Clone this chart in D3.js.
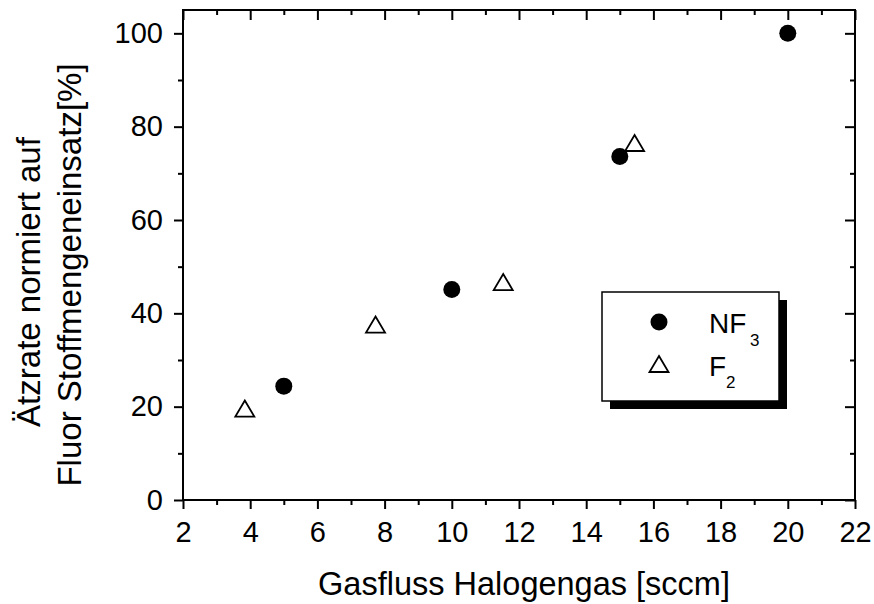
<!DOCTYPE html>
<html>
<head>
<meta charset="UTF-8">
<title>Ätzrate vs Gasfluss</title>
<script src="https://d3js.org/d3.v7.min.js"></script>
<style>
  body { margin: 0; background: #fff; }
  svg { display: block; background: #fff; }
  text { font-family: "Liberation Sans", Arial, sans-serif; fill: #000; }
  .axis path.domain { display: none; }
  .axis line { stroke: #000; stroke-width: 2; }
  .axis text { font-size: 29px; }
</style>
</head>
<body>
<svg width="874" height="604"></svg>
<script>
// data
var nf3X = [5, 10, 15, 20];
var nf3Y = [24.4, 45.1, 73.6, 100];
var f2X = [3.84, 7.73, 11.53, 15.44];
var f2Y = [19.6, 37.6, 46.7, 76.5];

var xMajor = [2, 4, 6, 8, 10, 12, 14, 16, 18, 20, 22];
var xMinor = [3, 5, 7, 9, 11, 13, 15, 17, 19, 21];
var yMajor = [0, 20, 40, 60, 80, 100];
var yMinor = [10, 30, 50, 70, 90];

var pl = 183, pr = 855, pt = 10, pb = 500;

var svg = d3.select('svg');
var x = d3.scaleLinear().domain([2, 22]).range([pl, pr]);
var y = d3.scaleLinear().domain([0, 105]).range([pb, pt]);

// bottom axis, major + minor ticks outward
svg.append('g').attr('class', 'axis').attr('transform', 'translate(0,' + pb + ')')
  .call(d3.axisBottom(x).tickValues(xMajor).tickSize(9).tickPadding(12).tickFormat(d3.format('d')));
svg.append('g').attr('class', 'axis').attr('transform', 'translate(0,' + pb + ')')
  .call(d3.axisBottom(x).tickValues(xMinor).tickSize(5).tickFormat(''));
// top axis, inward
svg.append('g').attr('class', 'axis').attr('transform', 'translate(0,' + pt + ')')
  .call(d3.axisTop(x).tickValues(xMajor).tickSize(-10).tickFormat(''));
svg.append('g').attr('class', 'axis').attr('transform', 'translate(0,' + pt + ')')
  .call(d3.axisTop(x).tickValues(xMinor).tickSize(-5).tickFormat(''));
// left axis
svg.append('g').attr('class', 'axis').attr('transform', 'translate(' + pl + ',0)')
  .call(d3.axisLeft(y).tickValues(yMajor).tickSize(9).tickPadding(11).tickFormat(d3.format('d')));
svg.append('g').attr('class', 'axis').attr('transform', 'translate(' + pl + ',0)')
  .call(d3.axisLeft(y).tickValues(yMinor).tickSize(5).tickFormat(''));
// right axis, inward
svg.append('g').attr('class', 'axis').attr('transform', 'translate(' + pr + ',0)')
  .call(d3.axisRight(y).tickValues(yMajor).tickSize(-10).tickFormat(''));
svg.append('g').attr('class', 'axis').attr('transform', 'translate(' + pr + ',0)')
  .call(d3.axisRight(y).tickValues(yMinor).tickSize(-5).tickFormat(''));

// frame
svg.append('rect').attr('x', pl).attr('y', pt)
  .attr('width', pr - pl).attr('height', pb - pt)
  .attr('fill', 'none').attr('stroke', '#000').attr('stroke-width', 2);

// titles
svg.append('text').attr('x', 524).attr('y', 595)
  .attr('text-anchor', 'middle').style('font-size', '32.5px')
  .text('Gasfluss Halogengas [sccm]');
svg.append('text').attr('transform', 'translate(40,282) rotate(-90)')
  .attr('text-anchor', 'middle').style('font-size', '33px')
  .text('Ätzrate normiert auf');
svg.append('text').attr('transform', 'translate(81,275) rotate(-90)')
  .attr('text-anchor', 'middle').style('font-size', '33px')
  .text('Fluor Stoffmengeneinsatz[%]');

function tri(cx, cy) {
  var p = d3.path();
  p.moveTo(cx, cy - 8);
  p.lineTo(cx + 9.5, cy + 8);
  p.lineTo(cx - 9.5, cy + 8);
  p.closePath();
  return p.toString();
}

// points
svg.append('g').selectAll('circle').data(nf3X).enter().append('circle')
  .attr('cx', function(d) { return x(d); })
  .attr('cy', function(d, i) { return y(nf3Y[i]); })
  .attr('r', 8.5).attr('fill', '#000');
svg.append('g').selectAll('path').data(f2X).enter().append('path')
  .attr('d', function(d, i) { return tri(x(d), y(f2Y[i])); })
  .attr('fill', 'none').attr('stroke', '#000').attr('stroke-width', 1.8);

// legend
var lg = svg.append('g');
lg.append('rect').attr('x', 610).attr('y', 300).attr('width', 177).attr('height', 109).attr('fill', '#000');
lg.append('rect').attr('x', 602).attr('y', 292).attr('width', 177).attr('height', 109)
  .attr('fill', '#fff').attr('stroke', '#000').attr('stroke-width', 1.5);
lg.append('circle').attr('cx', 659).attr('cy', 322).attr('r', 8.5).attr('fill', '#000');
lg.append('path').attr('d', tri(659, 364)).attr('fill', 'none').attr('stroke', '#000').attr('stroke-width', 1.8);
var t1 = lg.append('text').attr('x', 709).attr('y', 333).style('font-size', '28px');
t1.append('tspan').text('NF');
t1.append('tspan').attr('x', 750).attr('y', 346).style('font-size', '17px').text('3');
var t2 = lg.append('text').attr('x', 709).attr('y', 376).style('font-size', '28px');
t2.append('tspan').text('F');
t2.append('tspan').attr('x', 726).attr('y', 388).style('font-size', '17px').text('2');
</script>
</body>
</html>
